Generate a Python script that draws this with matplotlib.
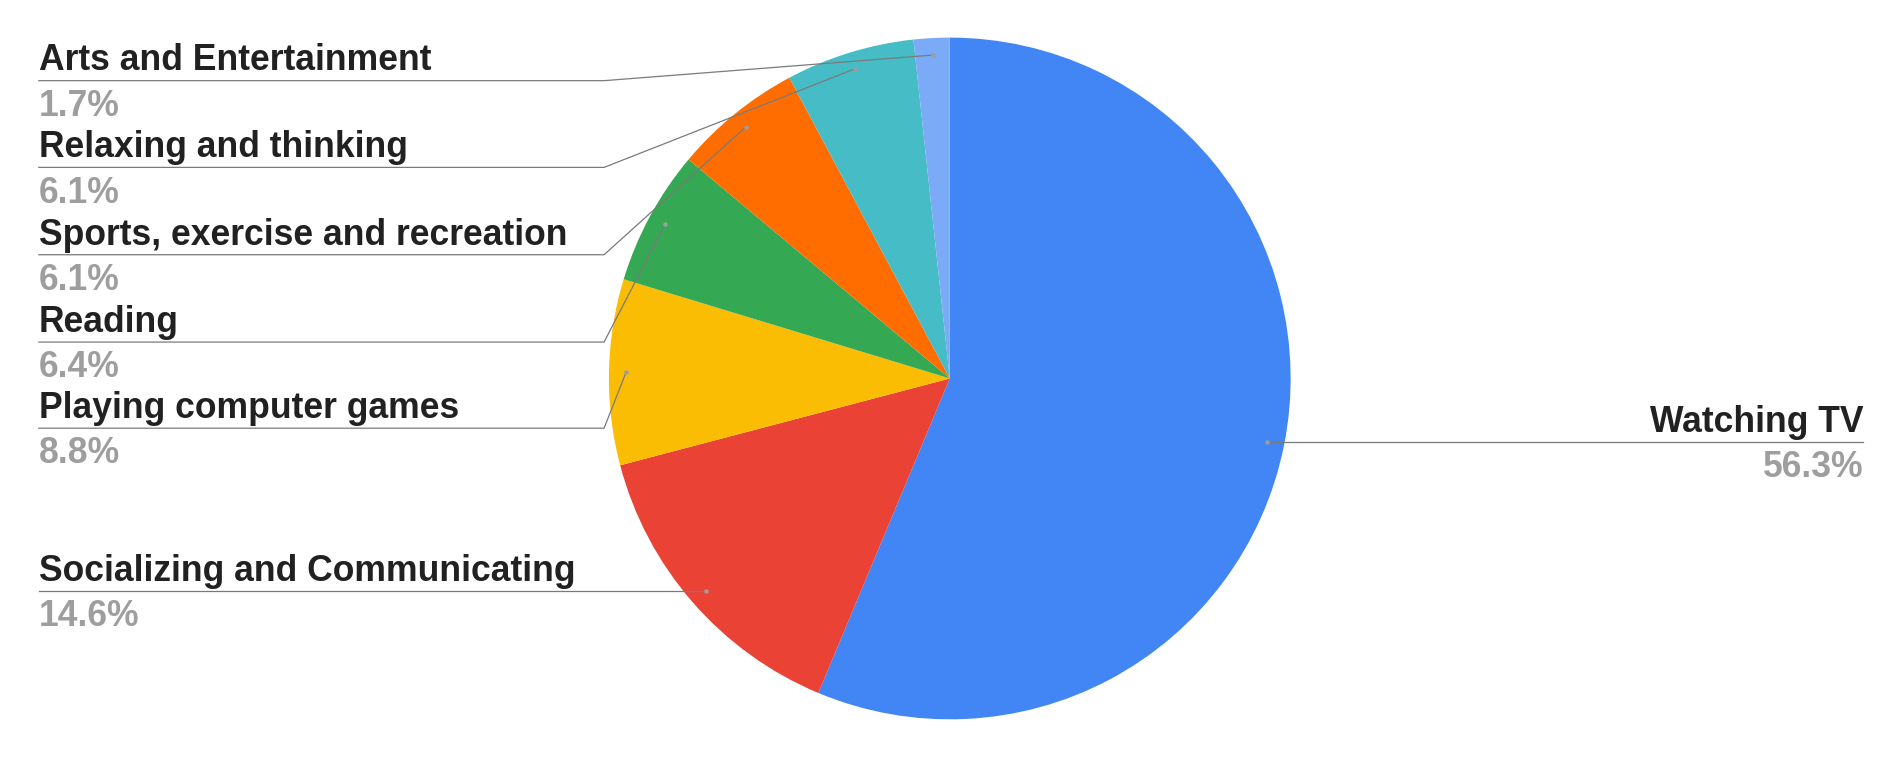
import matplotlib.pyplot as plt
import numpy as np

# slices, clockwise from 12 o'clock
labels = ["Watching TV", "Socializing and Communicating", "Playing computer games",
          "Reading", "Sports, exercise and recreation", "Relaxing and thinking",
          "Arts and Entertainment"]
shares = [56.3, 14.6, 8.8, 6.4, 6.1, 6.1, 1.7]
colors = ["#4285F4", "#EA4335", "#FBBC04", "#34A853", "#FF6D01", "#46BDC6", "#7BAAF7"]

# layout in reference pixels (scaled 1568 wide), y from top
W = 1568
H = W * 757 / 1902
cx, cy, r = 783, 312, 281
label_rows = [364, 487, 353, 282, 210, 138, 66.5]   # y of the leader underline
left_x, elbow_x, right_x = 32, 498, 1536

fig = plt.figure(figsize=(19.02, 7.57), dpi=100)
ax = fig.add_axes([0, 0, 1, 1])

# y axis is flipped, so counterclock in data = clockwise on screen
wedges, _ = ax.pie(shares, colors=colors, startangle=-90, counterclock=True,
                   center=(cx, cy), radius=r, wedgeprops=dict(linewidth=0))
ax.set_xlim(0, W)
ax.set_ylim(H, 0)
ax.set_aspect("auto")
ax.axis("off")

font = dict(family="Liberation Sans", fontweight="bold", fontsize=25.6)
line_col = "#7a7a7a"
for w, name, val, uy in zip(wedges, labels, shares, label_rows):
    mid = np.deg2rad((w.theta1 + w.theta2) / 2)
    px, py = cx + 0.95 * r * np.cos(mid), cy + 0.95 * r * np.sin(mid)
    if abs(py - uy) < 4:
        uy = py
    pct = f"{val:.1f}%"
    if px > cx:
        ax.plot([px, right_x], [uy, uy], color=line_col, lw=0.9)
        ax.text(right_x, uy - 8.4, name, ha="right", va="baseline", color="#212121", **font)
        ax.text(right_x, uy + 29, pct, ha="right", va="baseline", color="#9e9e9e", **font)
    else:
        if uy == py:
            ax.plot([left_x, px], [uy, uy], color=line_col, lw=0.9)
        else:
            ax.plot([left_x, elbow_x, px], [uy, uy, py], color=line_col, lw=0.9)
        ax.text(left_x, uy - 8.4, name, ha="left", va="baseline", color="#212121", **font)
        ax.text(left_x, uy + 29, pct, ha="left", va="baseline", color="#9e9e9e", **font)
    ax.plot([px], [py], "o", ms=2.2, color="#9e9e9e")

fig.savefig("out.png", dpi=100)
